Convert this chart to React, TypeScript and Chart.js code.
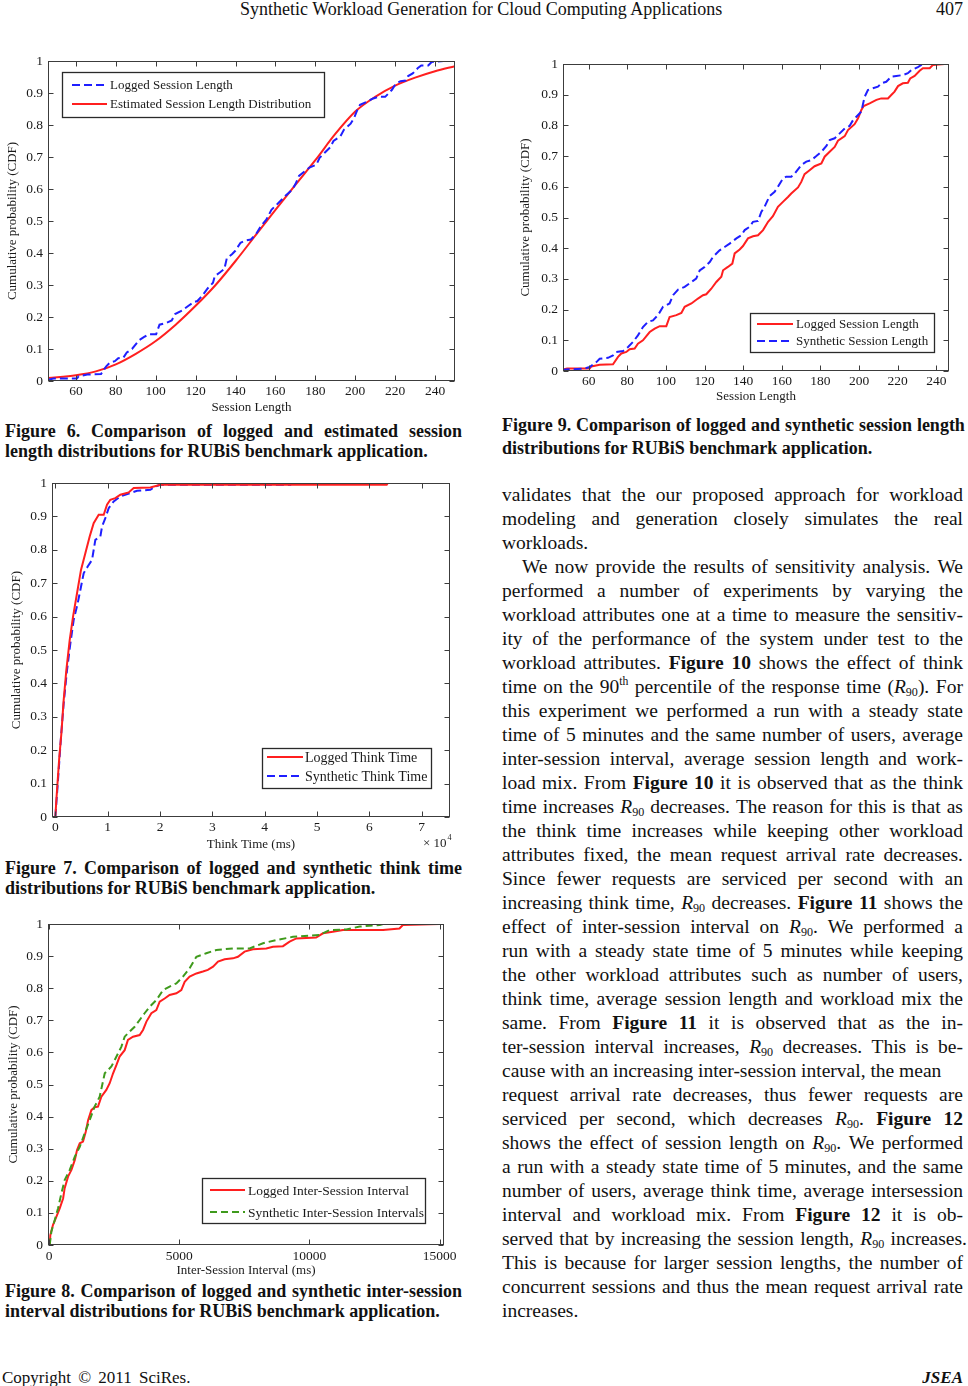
import React, { useEffect, useRef } from "react";
import { Chart, registerables } from "chart.js";

Chart.register(...registerables);

const SERIF = '"Liberation Serif", "Times New Roman", Times, serif';
const RED = "#ff1f1f";
const BLUE = "#1f1fff";
const GREEN = "#3f9a1c";
const FRAME = "#3c3c3c";

// ---------------- data ----------------
const cdfTicks = [0, 0.1, 0.2, 0.3, 0.4, 0.5, 0.6, 0.7, 0.8, 0.9, 1];
const sessionTicks = [60, 80, 100, 120, 140, 160, 180, 200, 220, 240];
const thinkTicks = [0, 10000, 20000, 30000, 40000, 50000, 60000, 70000];
const intervalTicks = [0, 5000, 10000, 15000];

// Logged session length (Figures 6 and 9)
const loggedSessionX = [46, 48.8, 60.5, 61.4, 65.7, 72.6, 75.2, 76.9, 79.5, 81.2, 83.8, 85.5, 88.1, 91.6, 94.2, 96.8, 100.2, 101.9, 105.4, 108, 109.7, 113.2, 116.6, 119.2, 120.9, 123.5, 126.1, 128.7, 129.6, 132.1, 134.4, 135.6, 138.2, 139.9, 142.5, 145.1, 147.7, 150.3, 152.9, 155.4, 158, 160.6, 163.2, 164.9, 168.4, 170.1, 171.8, 174.4, 177, 180.5, 182.2, 184.8, 187.4, 189.1, 192.6, 194.3, 197.7, 199.5, 201.2, 202.4, 205.5, 209, 211.5, 215, 216.7, 218.4, 220.2, 222.7, 225.3, 226.5, 228.8, 231.4, 233.1, 236.6, 238.3, 244.3, 250];
const loggedSessionP = [0.004, 0.008, 0.008, 0.015, 0.02, 0.022, 0.046, 0.057, 0.062, 0.071, 0.073, 0.089, 0.1, 0.127, 0.138, 0.146, 0.146, 0.176, 0.182, 0.189, 0.209, 0.22, 0.236, 0.247, 0.25, 0.268, 0.29, 0.307, 0.328, 0.339, 0.35, 0.383, 0.396, 0.407, 0.432, 0.439, 0.442, 0.459, 0.486, 0.504, 0.535, 0.551, 0.567, 0.578, 0.598, 0.616, 0.641, 0.654, 0.667, 0.676, 0.698, 0.714, 0.73, 0.75, 0.765, 0.785, 0.804, 0.823, 0.85, 0.863, 0.872, 0.883, 0.888, 0.888, 0.899, 0.91, 0.928, 0.937, 0.939, 0.953, 0.961, 0.978, 0.986, 0.986, 0.997, 1, 1];

// Estimated session length distribution (Figure 6)
const estimatedSessionX = [46, 60, 70, 80, 90, 100, 110, 120, 130, 140, 150, 160, 170, 180, 190, 200, 210, 220, 230, 240, 250];
const estimatedSessionP = [0.009, 0.018, 0.03, 0.052, 0.085, 0.125, 0.176, 0.235, 0.3, 0.375, 0.455, 0.535, 0.613, 0.69, 0.772, 0.842, 0.888, 0.923, 0.948, 0.968, 0.984];

// Synthetic session length (Figure 9)
const syntheticSessionX = [46, 58, 60.5, 64, 65.7, 70, 72.6, 74.3, 77.8, 80.4, 83, 85.5, 88.1, 90.7, 93.3, 95.9, 98.5, 101.9, 103.7, 106.3, 109.7, 113.2, 115.7, 117.5, 120.1, 122.7, 124.4, 127.8, 130.4, 133, 136.5, 139, 140.8, 143.4, 145.1, 147.7, 149.4, 151.1, 153.7, 156.3, 158, 160.6, 162.3, 164.9, 166.7, 170.1, 172.7, 175.3, 177.9, 180.5, 183.1, 184.8, 187.4, 190, 192.6, 195.1, 196.9, 199.5, 201.2, 202.9, 204.6, 207.2, 209.8, 211.5, 214.1, 216.7, 219.3, 222.7, 225.3, 227.1, 230.5, 233.1, 250];
const syntheticSessionP = [0.004, 0.008, 0.013, 0.029, 0.04, 0.043, 0.051, 0.062, 0.065, 0.078, 0.095, 0.116, 0.143, 0.16, 0.165, 0.182, 0.209, 0.22, 0.247, 0.265, 0.274, 0.29, 0.301, 0.328, 0.339, 0.355, 0.372, 0.393, 0.404, 0.415, 0.432, 0.442, 0.459, 0.47, 0.486, 0.489, 0.518, 0.535, 0.57, 0.584, 0.6, 0.627, 0.633, 0.633, 0.643, 0.671, 0.682, 0.687, 0.7, 0.714, 0.733, 0.752, 0.758, 0.774, 0.79, 0.798, 0.817, 0.834, 0.845, 0.893, 0.915, 0.921, 0.926, 0.937, 0.942, 0.959, 0.961, 0.964, 0.97, 0.98, 0.99, 1, 1];

// Think time in ms (Figure 7)
const loggedThinkX = [0, 190, 450, 760, 1150, 1590, 2100, 2740, 3380, 4140, 4900, 5730, 6560, 7320, 8280, 9240, 9870, 10500, 11460, 12420, 14010, 14970, 18150, 20060, 63300, 63500, 74800];
const loggedThinkP = [0, 0.05, 0.11, 0.18, 0.25, 0.35, 0.44, 0.53, 0.6, 0.67, 0.74, 0.79, 0.84, 0.88, 0.905, 0.905, 0.935, 0.95, 0.955, 0.965, 0.972, 0.985, 0.987, 0.995, 0.995, 1, 1];
const syntheticThinkX = [0, 320, 640, 1080, 1590, 2230, 2870, 3500, 4270, 4780, 5410, 6180, 7010, 7640, 8600, 8920, 9550, 10190, 11150, 12420, 14330, 15600, 18150, 19110, 20060, 44900, 45000, 63300];
const syntheticThinkP = [0, 0.07, 0.14, 0.24, 0.34, 0.44, 0.52, 0.59, 0.64, 0.68, 0.73, 0.75, 0.77, 0.83, 0.84, 0.87, 0.895, 0.925, 0.945, 0.96, 0.97, 0.977, 0.98, 0.99, 0.995, 0.995, 1, 1];

// Inter-session interval in ms (Figure 8)
const loggedIntervalX = [25, 50, 150, 280, 410, 540, 600, 730, 860, 990, 1075, 1180, 1305, 1410, 1500, 1625, 1750, 1880, 2010, 2200, 2330, 2460, 2590, 2710, 2905, 3030, 3225, 3480, 3610, 3740, 3930, 4120, 4250, 4440, 4630, 4890, 5080, 5210, 5400, 5660, 5910, 6100, 6300, 6490, 6745, 7065, 7255, 7510, 7830, 8345, 8600, 8985, 9240, 9500, 10260, 10520, 10900, 11290, 12830, 13460, 13590, 15000];
const loggedIntervalP = [0, 0.031, 0.062, 0.088, 0.114, 0.145, 0.177, 0.213, 0.234, 0.265, 0.296, 0.317, 0.322, 0.353, 0.389, 0.42, 0.429, 0.431, 0.462, 0.483, 0.504, 0.535, 0.561, 0.587, 0.607, 0.639, 0.649, 0.654, 0.67, 0.696, 0.722, 0.732, 0.758, 0.768, 0.779, 0.784, 0.794, 0.82, 0.836, 0.846, 0.852, 0.857, 0.867, 0.883, 0.89, 0.893, 0.898, 0.914, 0.921, 0.924, 0.929, 0.931, 0.945, 0.955, 0.958, 0.971, 0.976, 0.981, 0.981, 0.986, 0.997, 1];
const syntheticIntervalX = [25, 90, 220, 345, 475, 600, 795, 990, 1180, 1370, 1560, 1750, 1945, 2140, 2395, 2590, 2780, 2905, 3100, 3290, 3480, 3670, 3865, 4120, 4380, 4630, 4890, 5145, 5400, 5660, 6040, 6425, 7065, 7705, 8220, 8730, 9370, 10390, 10780, 11420, 11930, 12700, 12830];
const syntheticIntervalP = [0, 0.042, 0.078, 0.114, 0.161, 0.202, 0.234, 0.275, 0.306, 0.348, 0.389, 0.431, 0.462, 0.535, 0.556, 0.587, 0.618, 0.649, 0.665, 0.68, 0.701, 0.722, 0.742, 0.763, 0.794, 0.805, 0.815, 0.836, 0.862, 0.898, 0.909, 0.919, 0.924, 0.924, 0.94, 0.95, 0.96, 0.966, 0.981, 0.983, 0.992, 0.997, 1];

// ---------------- chart plumbing ----------------
type Series = { label: string; xs: number[]; ps: number[]; color: string; dash: number[]; smooth?: boolean };
type LegendSpec = { box: [number, number, number, number]; lineX: [number, number]; textX: number; fontSize: number; rows: number[] };
type ChartSpec = {
  left: number; top: number; width: number; height: number;
  padTop: number; padRight: number; yAxisWidth: number; xAxisHeight: number;
  xMin: number; xMax: number; xTicks: number[]; xFormat: (v: number) => string;
  xTitle: string; xTitlePad: number; yTitlePad: number; xTickPad: number;
  series: Series[]; legendOrder: number[]; legend: LegendSpec;
  exponent?: { x: number; y: number };
};

const framePlugin = {
  id: "paperFrame",
  afterDatasetsDraw(chart: any, _args: any, opts: any) {
    const { ctx, chartArea: a } = chart;
    const xs = chart.scales.x;
    const ys = chart.scales.y;
    const L = Math.round(a.left) + 0.5, R = Math.round(a.right) - 0.5;
    const T = Math.round(a.top) + 0.5, B = Math.round(a.bottom) - 0.5;
    ctx.save();
    ctx.strokeStyle = FRAME;
    ctx.lineWidth = 1;
    ctx.setLineDash([]);
    ctx.strokeRect(L, T, R - L, B - T);
    const tl = 5;
    ctx.beginPath();
    xs.ticks.forEach((t: any) => {
      const px = Math.round(xs.getPixelForValue(t.value)) + 0.5;
      ctx.moveTo(px, B); ctx.lineTo(px, B - tl);
      ctx.moveTo(px, T); ctx.lineTo(px, T + tl);
    });
    ys.ticks.forEach((t: any) => {
      const py = Math.round(ys.getPixelForValue(t.value)) + 0.5;
      ctx.moveTo(L, py); ctx.lineTo(L + tl, py);
      ctx.moveTo(R, py); ctx.lineTo(R - tl, py);
    });
    ctx.stroke();

    const lg: LegendSpec = opts.legend;
    const items: { label: string; color: string; dash: number[] }[] = opts.items;
    const [bx, by, bw, bh] = lg.box;
    ctx.fillStyle = "#fff";
    ctx.fillRect(bx, by, bw, bh);
    ctx.strokeStyle = "#2a2a2a";
    ctx.lineWidth = 1.3;
    ctx.strokeRect(bx + 0.5, by + 0.5, bw, bh);
    items.forEach((it, i) => {
      const y = lg.rows[i];
      ctx.strokeStyle = it.color;
      ctx.lineWidth = 2.2;
      ctx.setLineDash(it.dash);
      ctx.beginPath();
      ctx.moveTo(lg.lineX[0], y);
      ctx.lineTo(lg.lineX[1], y);
      ctx.stroke();
      ctx.setLineDash([]);
      ctx.fillStyle = "#1a1a1a";
      ctx.font = `${lg.fontSize}px ${SERIF}`;
      ctx.textBaseline = "middle";
      ctx.textAlign = "left";
      ctx.fillText(it.label, lg.textX, y + 1);
    });

    if (opts.exponent) {
      const { x, y } = opts.exponent;
      ctx.fillStyle = "#1a1a1a";
      ctx.textBaseline = "middle";
      ctx.font = `13px ${SERIF}`;
      ctx.fillText("\u00d7 10", x, y);
      const w = ctx.measureText("\u00d7 10").width;
      ctx.font = `8px ${SERIF}`;
      ctx.fillText("4", x + w + 1, y - 6);
    }
    ctx.restore();
  },
};

function CdfChart({ spec }: { spec: ChartSpec }) {
  const ref = useRef<HTMLCanvasElement>(null);
  useEffect(() => {
    const font = { family: SERIF, size: 13 };
    const tickFont = { family: SERIF, size: 13.5 };
    const chart = new Chart(ref.current as HTMLCanvasElement, {
      type: "scatter",
      data: {
        datasets: spec.series.map((s) => ({
          label: s.label,
          data: s.xs.map((x, i) => ({ x, y: s.ps[i] })),
          showLine: true,
          borderColor: s.color,
          backgroundColor: s.color,
          borderWidth: 2,
          borderDash: s.dash,
          pointRadius: 0,
          pointHoverRadius: 0,
          tension: 0,
          cubicInterpolationMode: s.smooth ? "monotone" : "default",
          fill: false,
        })),
      },
      options: {
        responsive: false,
        animation: false,
        devicePixelRatio: 1,
        events: [],
        layout: { padding: { left: 0, top: spec.padTop, right: spec.padRight, bottom: 0 } },
        plugins: {
          legend: { display: false },
          tooltip: { enabled: false },
          paperFrame: {
            legend: spec.legend,
            items: spec.legendOrder.map((i) => spec.series[i]),
            exponent: spec.exponent,
          },
        } as any,
        scales: {
          x: {
            type: "linear",
            min: spec.xMin,
            max: spec.xMax,
            afterBuildTicks: (s: any) => { s.ticks = spec.xTicks.map((v) => ({ value: v })); },
            afterFit: (s: any) => { s.height = spec.xAxisHeight; },
            grid: { display: false, drawTicks: false },
            border: { display: false },
            ticks: {
              font: tickFont, color: "#1a1a1a", padding: spec.xTickPad, autoSkip: false, maxRotation: 0,
              callback: (v: any) => spec.xFormat(Number(v)),
            },
            title: {
              display: true, text: spec.xTitle, font, color: "#1a1a1a",
              padding: { top: 0, bottom: spec.xTitlePad },
            },
          },
          y: {
            type: "linear",
            min: 0,
            max: 1,
            afterBuildTicks: (s: any) => { s.ticks = cdfTicks.map((v) => ({ value: v })); },
            afterFit: (s: any) => { s.width = spec.yAxisWidth; },
            grid: { display: false, drawTicks: false },
            border: { display: false },
            ticks: {
              font: tickFont, color: "#1a1a1a", padding: 5, autoSkip: false,
              callback: (v: any) => String(Math.round(Number(v) * 10) / 10),
            },
            title: {
              display: true, text: "Cumulative probability (CDF)", font, color: "#1a1a1a",
              padding: { top: spec.yTitlePad, bottom: 0 },
            },
          },
        },
      },
      plugins: [framePlugin],
    } as any);
    return () => chart.destroy();
  }, [spec]);
  return (
    <div style={{ position: "absolute", left: spec.left, top: spec.top, width: spec.width, height: spec.height }}>
      <canvas ref={ref} width={spec.width} height={spec.height} style={{ width: spec.width, height: spec.height, display: "block" }} />
    </div>
  );
}

const fmtNum = (v: number) => String(v);

const fig6: ChartSpec = {
  left: 0, top: 45, width: 470, height: 375,
  padTop: 16, padRight: 15, yAxisWidth: 48, xAxisHeight: 39,
  xMin: 46, xMax: 250, xTicks: sessionTicks, xFormat: fmtNum,
  xTitle: "Session Length", xTitlePad: 5, yTitlePad: 5, xTickPad: 2,
  series: [
    { label: "Logged Session Length", xs: loggedSessionX, ps: loggedSessionP, color: BLUE, dash: [8, 4] },
    { label: "Estimated Session Length Distribution", xs: estimatedSessionX, ps: estimatedSessionP, color: RED, dash: [], smooth: true },
  ],
  legendOrder: [0, 1],
  legend: { box: [62, 27, 262, 45], lineX: [72, 107], textX: 110, fontSize: 13, rows: [40, 59] },
};

const fig9: ChartSpec = {
  left: 490, top: 50, width: 478, height: 355,
  padTop: 14, padRight: 19, yAxisWidth: 73, xAxisHeight: 34,
  xMin: 46.7, xMax: 246.6, xTicks: sessionTicks, xFormat: fmtNum,
  xTitle: "Session Length", xTitlePad: 1, yTitlePad: 28, xTickPad: 2,
  series: [
    { label: "Synthetic Session Length", xs: syntheticSessionX, ps: syntheticSessionP, color: BLUE, dash: [8, 4] },
    { label: "Logged Session Length", xs: loggedSessionX, ps: loggedSessionP, color: RED, dash: [] },
  ],
  legendOrder: [1, 0],
  legend: { box: [260, 263, 184, 39], lineX: [267, 303], textX: 306, fontSize: 13, rows: [274, 291] },
};

const fig7: ChartSpec = {
  left: 0, top: 470, width: 470, height: 385,
  padTop: 12, padRight: 20, yAxisWidth: 52, xAxisHeight: 38,
  xMin: -640, xMax: 75400, xTicks: thinkTicks, xFormat: (v) => String(Math.round(v / 10000)),
  xTitle: "Think Time (ms)", xTitlePad: 3, yTitlePad: 9, xTickPad: 2,
  series: [
    { label: "Logged Think Time", xs: loggedThinkX, ps: loggedThinkP, color: RED, dash: [] },
    { label: "Synthetic Think Time", xs: syntheticThinkX, ps: syntheticThinkP, color: BLUE, dash: [8, 4] },
  ],
  legendOrder: [0, 1],
  legend: { box: [262, 278, 169, 40], lineX: [267, 303], textX: 305, fontSize: 14, rows: [287, 306] },
  exponent: { x: 423, y: 374 },
};

const fig8: ChartSpec = {
  left: 0, top: 910, width: 470, height: 370,
  padTop: 14, padRight: 26, yAxisWidth: 48, xAxisHeight: 35,
  xMin: -40, xMax: 15170, xTicks: intervalTicks, xFormat: fmtNum,
  xTitle: "Inter-Session Interval (ms)", xTitlePad: 2, yTitlePad: 6, xTickPad: 3,
  series: [
    { label: "Synthetic Inter-Session Intervals", xs: syntheticIntervalX, ps: syntheticIntervalP, color: GREEN, dash: [7, 4] },
    { label: "Logged Inter-Session Interval", xs: loggedIntervalX, ps: loggedIntervalP, color: RED, dash: [] },
  ],
  legendOrder: [1, 0],
  legend: { box: [202, 268, 223, 45], lineX: [210, 245], textX: 248, fontSize: 13.5, rows: [280, 302] },
};

// ---------------- text ----------------
type Line = { t: string; y: number; mode?: "j" | "l"; indent?: number; width?: number };

const bodyLines: Line[] = [
  { t: "validates that the our proposed approach for workload", y: 496 },
  { t: "modeling and generation closely simulates the real", y: 520 },
  { t: "workloads.", y: 544, mode: "l" },
  { t: "We now provide the results of sensitivity analysis. We", y: 568, indent: 20 },
  { t: "performed a number of experiments by varying the", y: 592 },
  { t: "workload attributes one at a time to measure the sensitiv-", y: 616 },
  { t: "ity of the performance of the system under test to the", y: 640 },
  { t: "workload attributes. ^Figure ^10 shows the effect of think", y: 664 },
  { t: "time on the 90{th} percentile of the response time ({R}). For", y: 688 },
  { t: "this experiment we performed a run with a steady state", y: 712 },
  { t: "time of 5 minutes and the same number of users, average", y: 736 },
  { t: "inter-session interval, average session length and work-", y: 760 },
  { t: "load mix. From ^Figure ^10 it is observed that as the think", y: 784 },
  { t: "time increases {R} decreases. The reason for this is that as", y: 808 },
  { t: "the think time increases while keeping other workload", y: 832 },
  { t: "attributes fixed, the mean request arrival rate decreases.", y: 856 },
  { t: "Since fewer requests are serviced per second with an", y: 880 },
  { t: "increasing think time, {R} decreases. ^Figure ^11 shows the", y: 904 },
  { t: "effect of inter-session interval on {R}. We performed a", y: 928 },
  { t: "run with a steady state time of 5 minutes while keeping", y: 952 },
  { t: "the other workload attributes such as number of users,", y: 976 },
  { t: "think time, average session length and workload mix the", y: 1000 },
  { t: "same. From ^Figure ^11 it is observed that as the in-", y: 1024 },
  { t: "ter-session interval increases, {R} decreases. This is be-", y: 1048 },
  { t: "cause with an increasing inter-session interval, the mean", y: 1072, mode: "l" },
  { t: "request arrival rate decreases, thus fewer requests are", y: 1096 },
  { t: "serviced per second, which decreases {R}. ^Figure ^12", y: 1120 },
  { t: "shows the effect of session length on {R}. We performed", y: 1144 },
  { t: "a run with a steady state time of 5 minutes, and the same", y: 1168 },
  { t: "number of users, average think time, average intersession", y: 1192 },
  { t: "interval and workload mix. From ^Figure ^12 it is ob-", y: 1216 },
  { t: "served that by increasing the session length, {R} increases.", y: 1240, width: 465 },
  { t: "This is because for larger session lengths, the number of", y: 1264 },
  { t: "concurrent sessions and thus the mean request arrival rate", y: 1288 },
  { t: "increases.", y: 1312, mode: "l" },
];

const captionLeft: Line[] = [
  { t: "Figure 6. Comparison of logged and estimated session", y: 431 },
  { t: "length distributions for RUBiS benchmark application.", y: 451, mode: "l" },
  { t: "Figure 7. Comparison of logged and synthetic think time", y: 868 },
  { t: "distributions for RUBiS benchmark application.", y: 888, mode: "l" },
  { t: "Figure 8. Comparison of logged and synthetic inter-session", y: 1291 },
  { t: "interval distributions for RUBiS benchmark application.", y: 1311, mode: "l" },
];
const captionRight: Line[] = [
  { t: "Figure 9. Comparison of logged and synthetic session length", y: 425 },
  { t: "distributions for RUBiS benchmark application.", y: 448, mode: "l" },
];

function renderWord(w: string, key: number) {
  let bold = false;
  if (w.startsWith("^")) { bold = true; w = w.slice(1); }
  const parts = w.split(/(\{R\}|\{th\})/);
  const kids = parts.map((p, i) => {
    if (p === "{R}") return (
      <span key={i}><i>R</i><sub style={{ fontSize: "0.62em", verticalAlign: "-0.25em", lineHeight: 0 }}>90</sub></span>
    );
    if (p === "{th}") return <sup key={i} style={{ fontSize: "0.6em", verticalAlign: "0.65em", lineHeight: 0 }}>th</sup>;
    return <React.Fragment key={i}>{p}</React.Fragment>;
  });
  return <span key={key} style={{ fontWeight: bold ? "bold" : undefined, whiteSpace: "nowrap" }}>{kids}</span>;
}

function TextLine({ line, left, width, size, lh, offset, bold }: { line: Line; left: number; width: number; size: number; lh: number; offset: number; bold?: boolean }) {
  const ind = line.indent || 0;
  const w = (line.width || width) - ind;
  const words = line.t.split(" ");
  const common: React.CSSProperties = {
    position: "absolute", left: left + ind, top: line.y - offset, width: w, height: lh,
    fontFamily: SERIF, fontSize: size, lineHeight: `${lh}px`, color: "#111", whiteSpace: "nowrap",
    fontWeight: bold ? "bold" : "normal",
  };
  if (line.mode === "l") {
    const kids: React.ReactNode[] = [];
    words.forEach((wd, i) => { if (i) kids.push(" "); kids.push(renderWord(wd, i)); });
    return <div style={common}>{kids}</div>;
  }
  return (
    <div style={{ ...common, display: "flex", justifyContent: "space-between", alignItems: "baseline", columnGap: 3 }}>
      {words.map((wd, i) => renderWord(wd, i))}
    </div>
  );
}

export default function App() {
  return (
    <div style={{ position: "absolute", left: 0, top: 0, width: 968, height: 1386, overflow: "hidden", background: "#fff" }}>
      <div style={{ position: "absolute", left: 240, top: -2, fontFamily: SERIF, fontSize: 18, lineHeight: "22px", color: "#111", whiteSpace: "nowrap" }}>
        Synthetic Workload Generation for Cloud Computing Applications
      </div>
      <div style={{ position: "absolute", right: 5, top: -2, fontFamily: SERIF, fontSize: 18, lineHeight: "22px", color: "#111" }}>407</div>

      <CdfChart spec={fig6} />
      <CdfChart spec={fig9} />
      <CdfChart spec={fig7} />
      <CdfChart spec={fig8} />

      {captionLeft.map((l, i) => <TextLine key={"cl" + i} line={l} left={5} width={457} size={18} lh={20} offset={10} bold />)}
      {captionRight.map((l, i) => <TextLine key={"cr" + i} line={l} left={502} width={463} size={18} lh={20} offset={10} bold />)}
      {bodyLines.map((l, i) => <TextLine key={"b" + i} line={l} left={502} width={461} size={19.5} lh={24} offset={13} />)}

      <div style={{ position: "absolute", left: 2, top: 1368, fontFamily: SERIF, fontSize: 17, lineHeight: "20px", color: "#111", wordSpacing: 3, whiteSpace: "nowrap" }}>
        Copyright © 2011 SciRes.
      </div>
      <div style={{ position: "absolute", right: 5, top: 1368, fontFamily: SERIF, fontSize: 17, lineHeight: "20px", color: "#111", fontWeight: "bold", fontStyle: "italic" }}>
        JSEA
      </div>
    </div>
  );
}
